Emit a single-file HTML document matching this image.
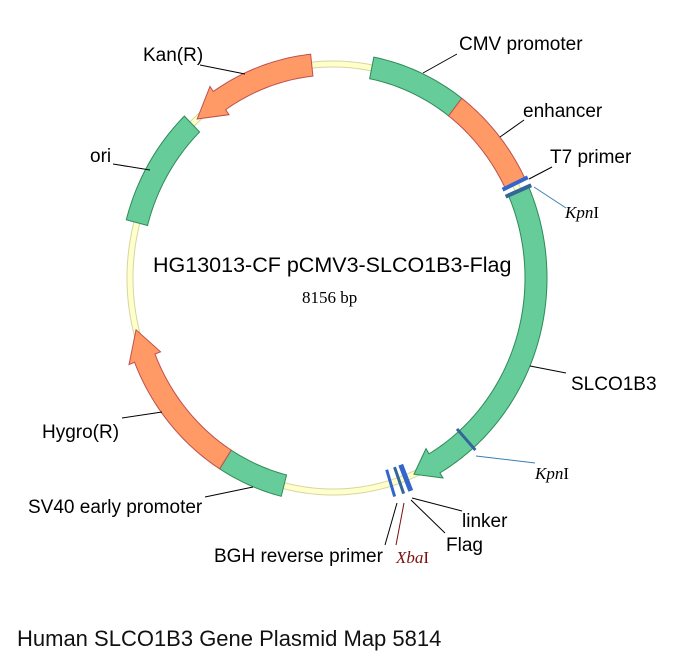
<!DOCTYPE html>
<html><head><meta charset="utf-8">
<style>
html,body{margin:0;padding:0;background:#fff;}
svg{display:block;}
.l{font-family:"Liberation Sans",Arial,sans-serif;font-size:19px;fill:#000;}
.k{font-family:"Liberation Serif",serif;font-style:italic;font-size:17px;}
</style></head>
<body>
<svg id="s" width="693" height="664" viewBox="0 0 693 664" xmlns="http://www.w3.org/2000/svg">
<g id="g"></g>
<g stroke="#000" stroke-width="1" fill="none">
<line x1="423" y1="73" x2="457" y2="54"/>
<line x1="500" y1="137" x2="524" y2="120"/>
<line x1="529" y1="179" x2="552" y2="167"/>
<line x1="530" y1="366" x2="566" y2="373"/>
<line x1="412" y1="498" x2="462" y2="511"/>
<line x1="411" y1="500" x2="445" y2="533"/>
<line x1="397" y1="503" x2="385" y2="545"/>
<line x1="253" y1="487" x2="205" y2="497"/>
<line x1="162" y1="412" x2="122" y2="418"/>
<line x1="113" y1="164" x2="150" y2="170"/>
<line x1="200" y1="65" x2="245" y2="74"/>
</g>
<line x1="534" y1="187" x2="566" y2="208" stroke="#3a7fb0" stroke-width="1"/>
<line x1="476" y1="456" x2="535" y2="463" stroke="#3a7fb0" stroke-width="1"/>
<line x1="404" y1="503" x2="396" y2="545" stroke="#7a1010" stroke-width="1"/>
<text class="l" x="459" y="50">CMV promoter</text>
<text class="l" x="523" y="117">enhancer</text>
<text class="l" x="550" y="163">T7 primer</text>
<text class="k" x="565" y="218">Kpn<tspan font-style="normal">I</tspan></text>
<text class="l" x="571" y="390">SLCO1B3</text>
<text class="k" x="535" y="479">Kpn<tspan font-style="normal">I</tspan></text>
<text class="l" x="462" y="527">linker</text>
<text class="l" x="446" y="551">Flag</text>
<text class="k" x="396" y="563" fill="#7a1010">Xba<tspan font-style="normal">I</tspan></text>
<text class="l" x="214" y="562">BGH reverse primer</text>
<text class="l" x="28" y="513">SV40 early promoter</text>
<text class="l" x="42" y="438">Hygro(R)</text>
<text class="l" x="90" y="162">ori</text>
<text class="l" x="143" y="61">Kan(R)</text>
<text x="153" y="272" style="font-family:'Liberation Sans',Arial,sans-serif;font-size:21.5px">HG13013-CF pCMV3-SLCO1B3-Flag</text>
<text x="302" y="303" style="font-family:'Liberation Serif',serif;font-size:17px">8156 bp</text>
<text x="17" y="646" style="font-family:'Liberation Sans',Arial,sans-serif;font-size:22px;fill:#111">Human SLCO1B3 Gene Plasmid Map 5814</text>
</svg>
<script>
var cx=333,cy=278,rx=203,ry=214,NS="http://www.w3.org/2000/svg",g=document.getElementById('g');
function P(t,d){var a=t*Math.PI/180;return (cx+(rx+d)*Math.sin(a)).toFixed(2)+","+(cy-(ry+d)*Math.cos(a)).toFixed(2);}
function arc(a,b,d){var s=[];var n=Math.max(2,Math.ceil(Math.abs(b-a)));for(var i=0;i<=n;i++)s.push(P(a+(b-a)*i/n,d));return s;}
function add(tag,at){var e=document.createElementNS(NS,tag);for(var k in at)e.setAttribute(k,at[k]);g.appendChild(e);return e;}
function band(a,b,fill,st){var pts=arc(a,b,11).concat(arc(b,a,-11));add('polygon',{points:pts.join(' '),fill:fill,stroke:st,'stroke-width':1});}
function arrow(a,h,tip,fill,st){var pts=arc(a,h,11);pts.push(P(h,17));pts.push(P(tip,0));pts.push(P(h,-17));pts=pts.concat(arc(h,a,-11));add('polygon',{points:pts.join(' '),fill:fill,stroke:st,'stroke-width':1});}
var bb=arc(0,360,0);add('polyline',{points:bb.join(' '),fill:'none',stroke:'#d6d6a0','stroke-width':7});
add('polyline',{points:bb.join(' '),fill:'none',stroke:'#ffffcc','stroke-width':5});
var G='#66cc99',GS='#2e8b57',O='#ff9966',OS='#c0504d';
band(11,37,G,GS);band(37,64,O,OS);
arrow(66,150,156.5,G,GS);
band(194,212,G,GS);
arrow(212,248,256,O,OS);
band(285,316,G,GS);
arrow(354,326,318,O,OS);
function tick(t,col,w,d1,d2){var a=P(t,d1).split(','),b=P(t,d2).split(',');add('line',{x1:a[0],y1:a[1],x2:b[0],y2:b[1],stroke:col,'stroke-width':w});}
tick(63.8,'#3366cc',4,-14,14);tick(66,'#336699',4,-14,14);
tick(139,'#336699',3,-14,14);
tick(159,'#3366cc',5,-14,14);tick(161,'#336699',3,-14,14);tick(163.5,'#3366cc',3,-14,14);
</script>
</body></html>
